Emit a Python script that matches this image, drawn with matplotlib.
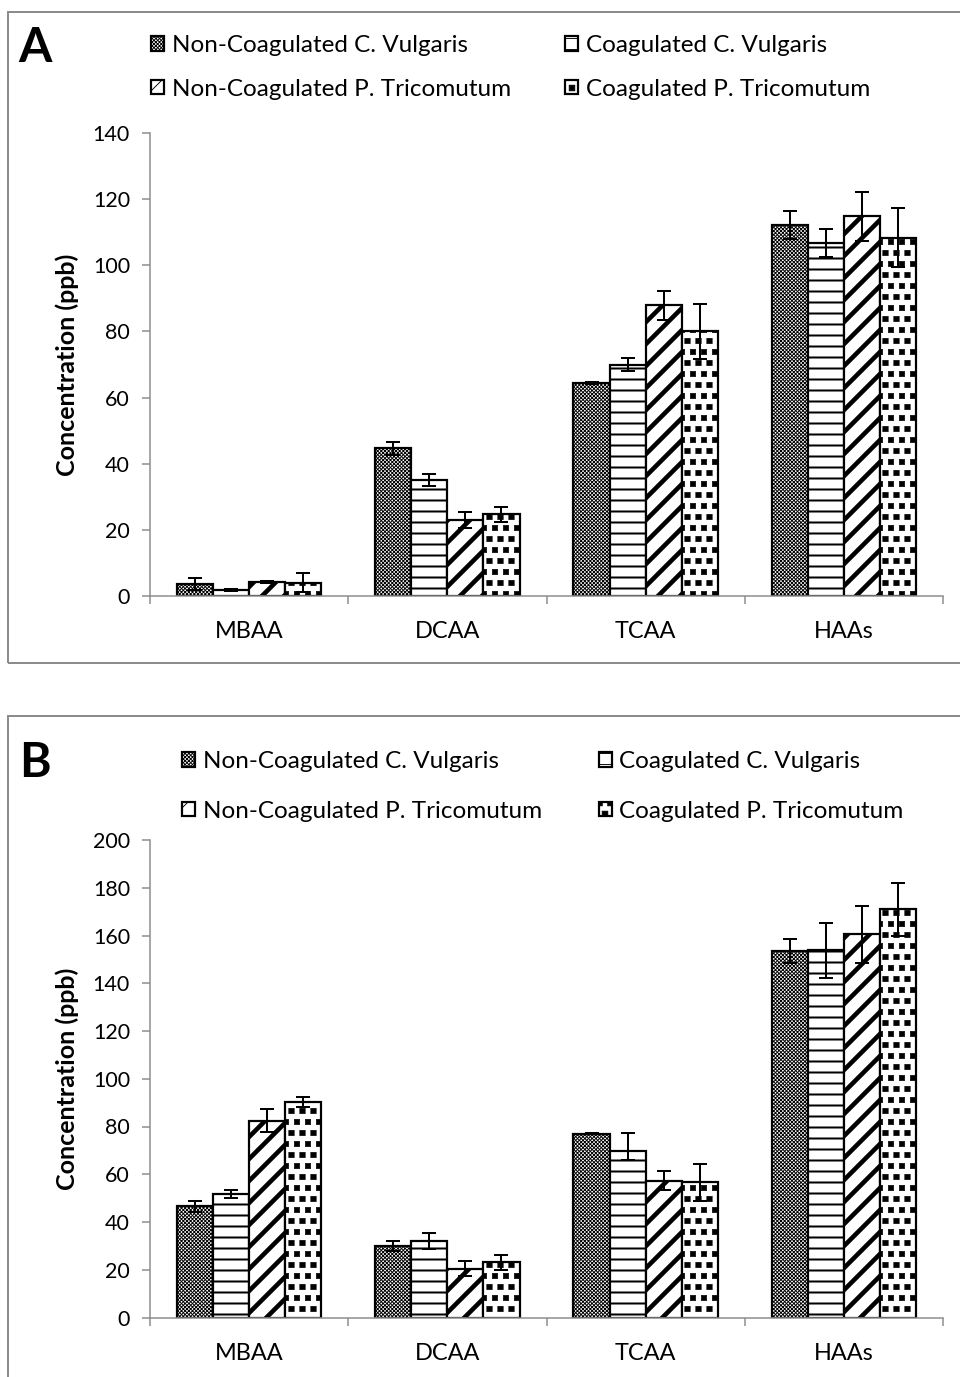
import numpy as np
import matplotlib
matplotlib.use("Agg")
import matplotlib.pyplot as plt
from matplotlib import hatch as mhatch
from matplotlib.path import Path
from matplotlib.patches import Rectangle

# --- Data ---
categories = ["MBAA", "DCAA", "TCAA", "HAAs"]
series = ["Non-Coagulated C. Vulgaris", "Coagulated C. Vulgaris",
          "Non-Coagulated P. Tricomutum", "Coagulated P. Tricomutum"]

# Panel A
a_ncv = [3.5, 44.7, 64.5, 112.2]
a_cv = [1.8, 35.1, 70.0, 106.8]
a_npt = [4.3, 22.9, 87.9, 114.8]
a_cpt = [4.0, 24.7, 80.0, 108.4]
a_ncv_err = [1.8, 2.0, 0.3, 4.2]
a_cv_err = [0.4, 1.9, 2.0, 4.3]
a_npt_err = [0.3, 2.4, 4.4, 7.5]
a_cpt_err = [2.9, 2.2, 8.3, 8.8]

# Panel B
b_ncv = [46.5, 30.0, 77.0, 153.6]
b_cv = [51.7, 32.2, 69.7, 153.8]
b_npt = [82.5, 20.5, 57.2, 160.5]
b_cpt = [90.2, 23.1, 56.6, 170.9]
b_ncv_err = [2.5, 2.1, 0.3, 5.0]
b_cv_err_lo = [1.7, 3.4, 3.7, 11.6]
b_cv_err_hi = [1.7, 3.4, 7.5, 11.6]
b_npt_err = [4.9, 3.3, 4.0, 11.9]
b_cpt_err = [2.0, 3.2, 7.6, 11.1]

DPI = 66
W, H = 960, 1377


def pt(px):
    return px * 72.0 / DPI


# --- custom "confetti" hatch: filled squares instead of stars for '*' ---
class SquareDots(mhatch.Shapes):
    size = 0.25
    filled = True

    def __init__(self, hatch, density):
        n = int(hatch.count('*') * density)
        self.num_rows = n - (n % 2)
        self.shape_vertices = np.array([[-1, -1], [1, -1], [1, 1], [-1, 1], [-1, -1]], float)
        self.shape_codes = np.array([Path.MOVETO, Path.LINETO, Path.LINETO,
                                     Path.LINETO, Path.CLOSEPOLY], dtype=Path.code_type)
        super().__init__(hatch, density)


mhatch._hatch_types = [SquareDots if t is mhatch.Stars else t for t in mhatch._hatch_types]

FONT = ["Lato", "DejaVu Sans"]
plt.rcParams["font.family"] = FONT

hatches = ["xxxxxx", "-", "/", "*"]
hatch_lw = [1.0, 2.2, 5.0, 0.5]
GRAY = "#8c8c8c"

fig = plt.figure(figsize=(W / DPI, H / DPI), dpi=DPI)


def panel(bottom_px, top_px, values, errors, ymax, step, letter, letter_y, box_top, box_bottom,
          leg_xy, leg_spacing, col_spacing):
    left_px, right_px = 150, 943
    ax = fig.add_axes([left_px / W, 1 - bottom_px / H, (right_px - left_px) / W,
                       (bottom_px - top_px) / H])
    x = np.arange(len(categories))
    width = 0.182
    handles = []
    for i, (vals, errs) in enumerate(zip(values, errors)):
        with plt.rc_context({"hatch.linewidth": hatch_lw[i], "hatch.color": "black"}):
            bars = ax.bar(x + (i - 1.5) * width, vals, width, color="white",
                          edgecolor="black", linewidth=2.4, hatch=hatches[i], zorder=2)
        for b in bars:
            if hasattr(b, "set_hatch_linewidth"):
                b.set_hatch_linewidth(hatch_lw[i])
        ax.errorbar(x + (i - 1.5) * width, vals, yerr=errs, fmt="none", ecolor="black",
                    elinewidth=2.2, capsize=8, capthick=2.2, zorder=3)
        handles.append(bars)

    ax.set_xlim(-0.5, 3.5)
    ax.set_ylim(0, ymax)
    ax.set_yticks(np.arange(0, ymax + 1, step))
    ax.set_xticks(x)
    ax.set_xticklabels(categories)
    ax.set_xticks(np.arange(-0.5, 4, 1), minor=True)
    ax.tick_params(axis="x", which="major", length=0, pad=pt(25), labelsize=pt(23.5))
    ax.tick_params(axis="x", which="minor", length=pt(8), width=pt(1.5), color=GRAY)
    ax.tick_params(axis="y", length=pt(8), width=pt(1.5), color=GRAY, pad=pt(12),
                   labelsize=pt(21.5))
    for s in ["top", "right"]:
        ax.spines[s].set_visible(False)
    for s in ["left", "bottom"]:
        ax.spines[s].set_color(GRAY)
        ax.spines[s].set_linewidth(pt(1.5))
    ax.set_ylabel("Concentration (ppb)", fontsize=pt(25), fontweight="bold", labelpad=pt(14))

    # legend: column-wise fill -> reorder
    order = [0, 2, 1, 3]
    fig.legend([handles[k] for k in order], [series[k] for k in order],
               loc="upper left", bbox_to_anchor=(leg_xy[0] / W, 1 - leg_xy[1] / H),
               ncol=2, frameon=False, fontsize=pt(24.2), handlelength=0.55,
               handleheight=0.55, handletextpad=0.3, columnspacing=col_spacing,
               labelspacing=leg_spacing, borderpad=0, borderaxespad=0)

    fig.text(35 / W, 1 - letter_y / H, letter, fontsize=pt(48), fontweight="bold",
             ha="center", va="center")
    fig.patches.append(Rectangle((8 / W, 1 - box_bottom / H), 1.0, (box_bottom - box_top) / H,
                                 transform=fig.transFigure, fill=False, edgecolor=GRAY,
                                 linewidth=pt(2)))
    return ax


panel(596, 133, [a_ncv, a_cv, a_npt, a_cpt], [a_ncv_err, a_cv_err, a_npt_err, a_cpt_err],
      140, 20, "A", 48, 12, 663, (151, 35), 0.93, 2.25)
panel(1317.5, 840, [b_ncv, b_cv, b_npt, b_cpt],
      [b_ncv_err, [b_cv_err_lo, b_cv_err_hi], b_npt_err, b_cpt_err],
      200, 20, "B", 763, 716, 1400, (182, 751), 1.18, 2.35)

fig.savefig("out.png", dpi=DPI)
